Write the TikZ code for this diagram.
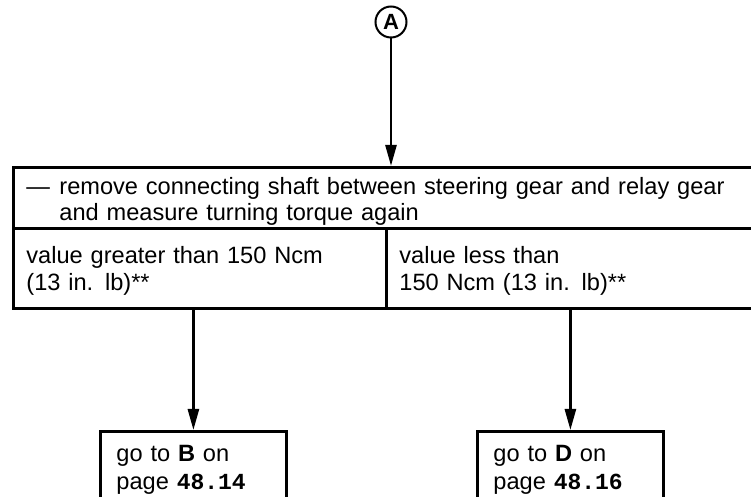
\documentclass[tikz,border=0pt]{standalone}
\usepackage{fontspec}
\setmainfont{Liberation Sans}
\newfontfamily\pagefont{Liberation Mono}
\usetikzlibrary{calc}
\usetikzlibrary{arrows.meta}

\newcommand\topstrut[1]{\rule{0pt}{#1}}
\newcommand\botstrut[1]{\rule[-#1]{0pt}{#1}}
\newcommand\pagenum[1]{{\pagefont\bfseries\fontsize{11.5}{14}\selectfont #1}}

\begin{document}
\begin{tikzpicture}[x=0.5pt,y=-0.5pt,
    cell/.style={draw, line width=1.4pt, anchor=north west, align=left,
        inner xsep=6.5pt, inner ysep=0pt, font=\fontsize{11.8}{13.5}\selectfont},
    gobox/.style={cell, inner xsep=8pt, minimum width=93pt, minimum height=40pt,
        text width=77pt, font=\fontsize{11.8}{14}\selectfont},
    flow/.style={line width=1.3pt, -{Triangle[length=10.5pt,width=5.5pt]}}]
\useasboundingbox (0,0) rectangle (751,497);
\clip (0,0) rectangle (751,497);

\node[draw, circle, line width=1pt, minimum size=15.5pt, inner sep=0pt,
    font=\bfseries\fontsize{11}{11}\selectfont] (A) at (391,22) {A};

\node[cell, minimum width=376.5pt, minimum height=30.5pt, text width=363.5pt,
    font=\fontsize{11.8}{13}\selectfont]
    (remove) at (12,166)
    {\makebox[16.5pt][l]{---}\topstrut{13.5pt}remove connecting shaft between steering gear and relay gear\\
     \hspace*{16.5pt}and measure turning torque again\botstrut{4pt}};
\node[cell, minimum width=186.5pt, minimum height=40pt, text width=173.5pt]
    (more) at (12,227)
    {\topstrut{17.5pt}value greater than 150 Ncm\\(13 in. lb)**\botstrut{8.5pt}};
\node[cell, minimum width=190pt, minimum height=40pt, text width=177pt]
    (less) at (385,227)
    {\topstrut{17.5pt}value less than\\150 Ncm (13 in. lb)**\botstrut{8.5pt}};

\node[gobox] (goB) at (99,430)
    {\topstrut{15pt}go to \textbf{B} on\\page \pagenum{48.14}\botstrut{11pt}};
\node[gobox] (goD) at (476,430)
    {\topstrut{15pt}go to \textbf{D} on\\page \pagenum{48.16}\botstrut{11pt}};

\draw[flow] (A.south) -- (A.south |- remove.north);
\draw[flow] (goB.north |- more.south) -- (goB.north);
\draw[flow] (goD.north |- less.south) -- (goD.north);
\end{tikzpicture}
\end{document}
